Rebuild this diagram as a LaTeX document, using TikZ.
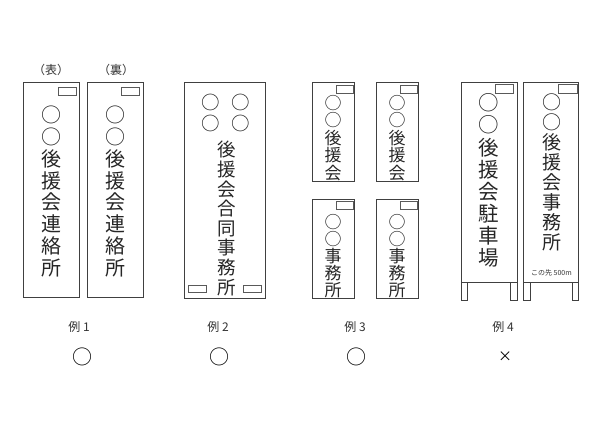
\documentclass[tikz,border=0pt]{standalone}
\usepackage{fontspec}
\setmainfont{Noto Sans CJK JP}
\begin{document}
\begin{tikzpicture}[x=1pt,y=-1pt,
  board/.style={draw=black!75, line width=0.6pt},
  tabbox/.style={draw=black!65, line width=0.6pt},
  vt/.style={align=center, inner sep=0pt, text=black!85},
  lbl/.style={inner sep=0pt, text=black!80, font=\fontsize{12}{14}\selectfont}]
\useasboundingbox (0,0) rectangle (600,424);
% Example 1
\node[lbl] (omote) at (51,70) {（表）};
\node[lbl] (ura) at (116,70) {（裏）};
\draw[board] (23,82) rectangle (79,297);
\draw[tabbox] (58,87) rectangle (76,95);
\draw[board] (87,82) rectangle (143,297);
\draw[tabbox] (121,87) rectangle (139,95);
\node[vt, font=\fontsize{20}{21.9}\selectfont] (t1) at (51,191.5) {○\\○\\後\\援\\会\\連\\絡\\所};
\node[vt, font=\fontsize{20}{21.9}\selectfont] (t2) at (115,191.5) {○\\○\\後\\援\\会\\連\\絡\\所};
% Example 2
\draw[board] (184,82) rectangle (265,298);
\draw[tabbox] (188,285) rectangle (206,292);
\draw[tabbox] (243,285) rectangle (261,292);
\node[vt, font=\fontsize{18.5}{20.6}\selectfont] (c1) at (226,113) {○\hspace{11.5pt}○\\○\hspace{11.5pt}○};
\node[vt, font=\fontsize{18.5}{19.6}\selectfont] (t3) at (226.5,218.5) {後\\援\\会\\合\\同\\事\\務\\所};
% Example 3
\draw[board] (312,82) rectangle (354,181);
\draw[tabbox] (336,85) rectangle (353,93);
\draw[board] (376,82) rectangle (418,181);
\draw[tabbox] (400,85) rectangle (417,93);
\draw[board] (312,199) rectangle (354,298);
\draw[tabbox] (336,201) rectangle (353,209);
\draw[board] (376,199) rectangle (418,298);
\draw[tabbox] (400,201) rectangle (417,209);
\node[vt, font=\fontsize{17}{17.5}\selectfont] (t4) at (333,138) {○\\○\\後\\援\\会};
\node[vt, font=\fontsize{17}{17.5}\selectfont] (t5) at (397,138) {○\\○\\後\\援\\会};
\node[vt, font=\fontsize{17}{17}\selectfont] (t6) at (333,256) {○\\○\\事\\務\\所};
\node[vt, font=\fontsize{17}{17}\selectfont] (t7) at (397,256) {○\\○\\事\\務\\所};
% Example 4
\draw[board] (461,82) rectangle (517,282);
\draw[board] (461,282) rectangle (467,300);
\draw[board] (510,282) rectangle (517,300);
\draw[tabbox] (495,84) rectangle (513,93);
\node[vt, font=\fontsize{20.5}{22.1}\selectfont] (t8) at (489,180.5) {○\\○\\後\\援\\会\\駐\\車\\場};
\draw[board] (523,82) rectangle (578,282);
\draw[board] (523,282) rectangle (530,300);
\draw[board] (572,282) rectangle (578,300);
\draw[tabbox] (558,84) rectangle (577,93);
\node[vt, font=\fontsize{19}{20.1}\selectfont] (t9) at (551.5,172.5) {○\\○\\後\\援\\会\\事\\務\\所};
\node[inner sep=0pt, text=black!80, font=\fontsize{7}{8}\selectfont] (dist) at (551.5,273) {この先 500m};
% Captions
\node[lbl] (e1) at (79,327) {例 1};
\node[lbl] (e2) at (218,327) {例 2};
\node[lbl] (e3) at (355,327) {例 3};
\node[lbl] (e4) at (503,327) {例 4};
\node[inner sep=0pt, font=\fontsize{20}{20}\selectfont] (m1) at (82,357) {○};
\node[inner sep=0pt, font=\fontsize{20}{20}\selectfont] (m2) at (219,357) {○};
\node[inner sep=0pt, font=\fontsize{20}{20}\selectfont] (m3) at (356,357) {○};
\node[inner sep=0pt, font=\fontsize{14}{16}\selectfont] (m4) at (505,357) {×};
\end{tikzpicture}
\end{document}
